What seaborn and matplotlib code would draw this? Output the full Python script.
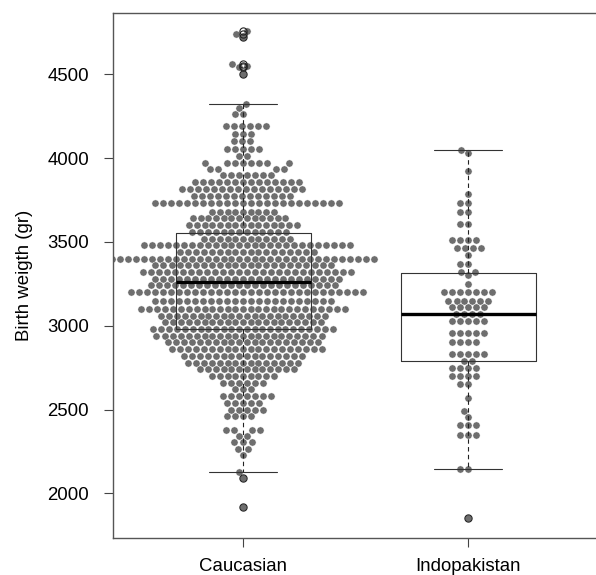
import numpy as np
import pandas as pd
import matplotlib
matplotlib.use("Agg")
import matplotlib.pyplot as plt
import seaborn as sns

# ---- data ----
groups = ["Caucasian", "Indopakistan"]

cauc_weight = [4760, 4740, 4720, 4560, 4550, 4540, 4500,
               4325, 4300, 4260, 4190, 4145, 4100, 4055, 4010,
               3970, 3935, 3900, 3860, 3815, 3775,
               3730, 3680, 3640, 3600, 3560, 3520,
               3480, 3440, 3400, 3360, 3320, 3280, 3240, 3200, 3150, 3100,
               3060, 3020, 2980, 2940, 2900, 2860, 2820, 2780, 2740, 2700,
               2660, 2620, 2580, 2540, 2500, 2460,
               2380, 2345, 2305, 2265, 2230, 2130, 2090, 1920]
cauc_count = [1, 1, 1, 1, 1, 1, 1,
              1, 1, 2, 6, 3, 3, 5, 2,
              8, 4, 7, 14, 16, 13,
              24, 9, 13, 15, 13, 12,
              27, 18, 34, 23, 27, 24, 24, 30, 23, 27,
              22, 21, 24, 22, 20, 20, 16, 15, 13, 9,
              6, 3, 7, 5, 5, 4,
              4, 2, 3, 2, 1, 1, 1, 1]

indo_weight = [4050, 4030, 3920, 3785, 3730, 3680, 3605, 3510, 3463, 3420,
               3371, 3320, 3300, 3250, 3203, 3150, 3110, 3070, 3030, 2958,
               2905, 2830, 2790, 2750, 2700, 2652, 2567, 2493, 2454, 2408,
               2348, 2143, 1855]
indo_count = [1, 1, 1, 1, 2, 2, 2, 4, 4, 1,
              2, 2, 1, 1, 7, 6, 5, 4, 5, 5,
              4, 5, 2, 4, 4, 2, 1, 1, 1, 3,
              3, 2, 1]

y_ticks = [2000, 2500, 3000, 3500, 4000, 4500]

# ---- build table ----
cauc = np.repeat(cauc_weight, cauc_count).astype(float)
indo = np.repeat(indo_weight, indo_count).astype(float)
positions = {"Caucasian": 0.0, "Indopakistan": 0.5}
df = pd.DataFrame({
    "group": ["Caucasian"] * len(cauc) + ["Indopakistan"] * len(indo),
    "weight": np.concatenate([cauc, indo]),
})
df["pos"] = df["group"].map(positions)

sns.set_theme(style="white")
plt.rcParams["font.family"] = ["Liberation Sans", "DejaVu Sans"]

fig = plt.figure(figsize=(5.96, 5.75), dpi=100)
ax = fig.add_axes([0.1896, 0.06435, 0.8138, 0.91304])

for g in groups:
    sub = df[df["group"] == g]
    sns.swarmplot(data=sub, x="pos", y="weight", native_scale=True, orient="x",
                  color="#6e6e6e", size=5.2, edgecolor="white", linewidth=0.3,
                  warn_thresh=1.0, ax=ax, zorder=1)

sns.boxplot(data=df, x="pos", y="weight", native_scale=True, orient="x",
            width=0.6, fill=False, color="#333333", linewidth=0.8, whis=1.5,
            whiskerprops=dict(linestyle=(0, (4, 3)), color="#222222"),
            capprops=dict(color="#333333"),
            medianprops=dict(linewidth=2.4, color="black"),
            flierprops=dict(marker="o", markersize=5.2, markerfacecolor="none",
                            markeredgecolor="#222222", markeredgewidth=0.8),
            ax=ax)

ax.set_xlim(-0.2889, 0.7889)
ax.set_ylim(1734, 4865)
ax.set_xticks([positions[g] for g in groups])
ax.set_xticklabels(groups)
ax.set_yticks(y_ticks)
ax.set_yticklabels([str(t) for t in y_ticks])
ax.set_xlabel("")
ax.set_ylabel("Birth weigth (gr)", fontsize=13.4, color="black")
ax.yaxis.set_label_coords(-0.165, 0.5)

for side in ["left", "top", "bottom"]:
    ax.spines[side].set_visible(True)
    ax.spines[side].set_color("#555555")
    ax.spines[side].set_linewidth(1.0)
ax.spines["right"].set_visible(False)

ax.tick_params(axis="both", which="major", bottom=True, left=True, direction="out",
               length=6.8, width=0.8, color="#444444", labelsize=13.4,
               labelcolor="black", pad=7.5)
ax.tick_params(axis="y", pad=10.5)

fig.savefig("out.png", dpi=100)
